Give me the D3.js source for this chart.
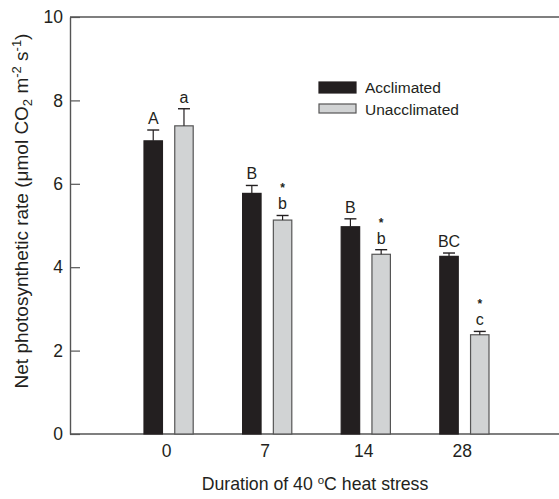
<!DOCTYPE html>
<html>
<head>
<meta charset="utf-8">
<script src="https://cdn.jsdelivr.net/npm/d3@7"></script>
<style>
  html, body { margin: 0; padding: 0; background: #fff; }
  svg { display: block; font-family: "Liberation Sans", Arial, Helvetica, sans-serif; }
</style>
</head>
<body>
<svg id="chart" width="559" height="499"></svg>
<script>
// Days of exposure to 40 °C
const durations = ["0", "7", "14", "28"];
const seriesNames = ["Acclimated", "Unacclimated"];

// Net photosynthetic rate means and standard errors
const acclimatedMean = [7.03, 5.77, 4.97, 4.26];
const acclimatedSE   = [0.26, 0.19, 0.19, 0.08];
const unacclimatedMean = [7.39, 5.13, 4.31, 2.38];
const unacclimatedSE   = [0.41, 0.11, 0.11, 0.08];

// Letters from the multiple comparison test, and significance markers
const acclimatedLetters   = ["A", "B", "B", "BC"];
const unacclimatedLetters = ["a", "b", "b", "c"];
const unacclimatedStars   = ["", "*", "*", "*"];

const yTicks = [0, 2, 4, 6, 8, 10];

const ink = "#231f20";
const axisColor = "#555";
const fills = { Acclimated: "#231f20", Unacclimated: "#d1d3d4" };
const strokes = { Acclimated: "#231f20", Unacclimated: "#555" };

const svg = d3.select("#chart");
const plotLeft = 70, plotRight = 559, plotTop = 17, plotBottom = 434;

const y = d3.scaleLinear().domain([0, 10]).range([plotBottom, plotTop]);
const x0 = d3.scaleBand().domain(durations).range([119.2, 119.2 + 98.6 * 4]).padding(0);
const x1 = d3.scaleBand().domain(seriesNames).range([24.8, 74]).paddingInner(0.4).paddingOuter(0);

const rows = durations.map((d, i) => ({
  d,
  values: [
    { s: "Acclimated", m: acclimatedMean[i], se: acclimatedSE[i], letter: acclimatedLetters[i], star: "" },
    { s: "Unacclimated", m: unacclimatedMean[i], se: unacclimatedSE[i], letter: unacclimatedLetters[i], star: unacclimatedStars[i] }
  ]
}));

// frame: top line and baseline
svg.append("line").attr("x1", plotLeft).attr("x2", plotRight).attr("y1", plotTop).attr("y2", plotTop)
  .attr("stroke", axisColor).attr("stroke-width", 1.4);
svg.append("line").attr("x1", plotLeft).attr("x2", plotRight).attr("y1", plotBottom).attr("y2", plotBottom)
  .attr("stroke", axisColor).attr("stroke-width", 1.4);

// y axis with inward ticks
const yAxis = svg.append("g").attr("transform", `translate(${plotLeft},0)`)
  .call(d3.axisLeft(y).tickValues(yTicks).tickSizeInner(-10).tickSizeOuter(0).tickPadding(7));
yAxis.select(".domain").attr("stroke", axisColor).attr("stroke-width", 1.4);
yAxis.selectAll(".tick line").attr("stroke", axisColor).attr("stroke-width", 1.2);
yAxis.selectAll(".tick text").attr("fill", ink).attr("font-size", 17.5)
  .attr("font-family", "Liberation Sans, Arial, sans-serif");

// x axis labels only
const xAxis = svg.append("g").attr("transform", `translate(-2,${plotBottom})`)
  .call(d3.axisBottom(x0).tickSize(0).tickPadding(11));
xAxis.select(".domain").remove();
xAxis.selectAll(".tick text").attr("fill", ink).attr("font-size", 17.5)
  .attr("font-family", "Liberation Sans, Arial, sans-serif");

// bars with upward error bars
const groups = svg.selectAll("g.grp").data(rows).join("g")
  .attr("class", "grp").attr("transform", r => `translate(${x0(r.d)},0)`);

const bars = groups.selectAll("g.bar").data(r => r.values).join("g").attr("class", "bar");
bars.append("rect")
  .attr("x", v => x1(v.s)).attr("width", x1.bandwidth())
  .attr("y", v => y(v.m)).attr("height", v => y(0) - y(v.m))
  .attr("fill", v => fills[v.s]).attr("stroke", v => strokes[v.s]).attr("stroke-width", 1.2);
bars.append("line")
  .attr("x1", v => x1(v.s) + x1.bandwidth() / 2).attr("x2", v => x1(v.s) + x1.bandwidth() / 2)
  .attr("y1", v => y(v.m)).attr("y2", v => y(v.m + v.se))
  .attr("stroke", ink).attr("stroke-width", 1.2);
bars.append("line")
  .attr("x1", v => x1(v.s) + x1.bandwidth() / 2 - 6).attr("x2", v => x1(v.s) + x1.bandwidth() / 2 + 6)
  .attr("y1", v => y(v.m + v.se)).attr("y2", v => y(v.m + v.se))
  .attr("stroke", ink).attr("stroke-width", 1.4);
bars.append("text")
  .attr("x", v => x1(v.s) + x1.bandwidth() / 2).attr("y", v => y(v.m + v.se) - 6)
  .attr("text-anchor", "middle").attr("fill", ink).attr("font-size", 16)
  .text(v => v.letter);
bars.filter(v => v.star).append("text")
  .attr("x", v => x1(v.s) + x1.bandwidth() / 2).attr("y", v => y(v.m + v.se) - 23)
  .attr("text-anchor", "middle").attr("fill", ink).attr("font-size", 12).attr("font-weight", "bold")
  .text(v => v.star);

// legend
const legend = svg.append("g").attr("transform", "translate(319,82)");
seriesNames.forEach((s, i) => {
  const g = legend.append("g").attr("transform", `translate(0,${i * 22})`);
  g.append("rect").attr("x", 0).attr("y", 0).attr("width", 37).attr("height", i === 0 ? 11 : 9)
    .attr("fill", fills[s]).attr("stroke", strokes[s]).attr("stroke-width", 1.2);
  g.append("text").attr("x", 46).attr("y", 5.5).attr("dy", "0.35em")
    .attr("fill", ink).attr("font-size", 15.5).text(s);
});

// axis titles
const xt = svg.append("text").attr("x", 315).attr("y", 490).attr("text-anchor", "middle")
  .attr("fill", ink).attr("font-size", 17.7);
xt.append("tspan").text("Duration of 40 ");
xt.append("tspan").attr("font-size", 11.5).attr("baseline-shift", "6").text("o");
xt.append("tspan").text("C heat stress");

const yt = svg.append("text").attr("transform", "translate(28,211) rotate(-90)")
  .attr("text-anchor", "middle").attr("fill", ink).attr("font-size", 19);
yt.append("tspan").text("Net photosynthetic rate (\u03bcmol CO");
yt.append("tspan").attr("font-size", 13).attr("baseline-shift", "-4").text("2");
yt.append("tspan").text(" m");
yt.append("tspan").attr("font-size", 13).attr("baseline-shift", "7").text("-2");
yt.append("tspan").text(" s");
yt.append("tspan").attr("font-size", 13).attr("baseline-shift", "7").text("-1");
yt.append("tspan").text(")");
</script>
</body>
</html>
